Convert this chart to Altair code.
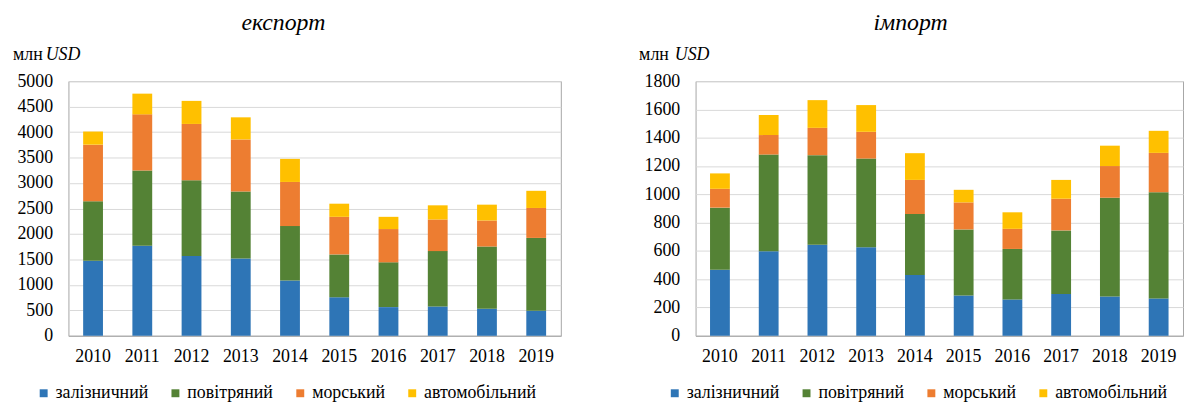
import altair as alt
import pandas as pd

FONT = "'Liberation Serif', 'Times New Roman', serif"

years = [str(y) for y in range(2010, 2020)]
modes = ["залізничний", "повітряний", "морський", "автомобільний"]
colors = ["#2E75B6", "#548235", "#ED7D31", "#FFC000"]

export_rail = [1475, 1766, 1566, 1520, 1087, 757, 563, 576, 531, 492]
export_air = [1165, 1482, 1488, 1314, 1068, 841, 880, 1087, 1222, 1430]
export_sea = [1113, 1100, 1106, 1022, 866, 738, 653, 621, 511, 588]
export_road = [258, 407, 453, 434, 453, 258, 240, 278, 311, 337]

import_rail = [467, 598, 644, 626, 429, 285, 257, 296, 278, 264]
import_air = [439, 683, 633, 627, 432, 467, 357, 449, 698, 751]
import_sea = [133, 138, 193, 189, 241, 191, 142, 224, 224, 278]
import_road = [109, 142, 196, 189, 189, 89, 117, 133, 144, 156]


def long_df(series):
    rows = []
    for k, (mode, vals) in enumerate(zip(modes, series)):
        for y, v in zip(years, vals):
            rows.append({"year": y, "mode": mode, "value": v, "k": k})
    return pd.DataFrame(rows)


one = pd.DataFrame({"a": [0]})


def panel(df, title, ymax, step, width, legend_x, mln_x, usd_x):
    H = 257
    bars = alt.Chart(df).mark_bar(size=20).encode(
        x=alt.X("year:N", title=None, sort=years,
                axis=alt.Axis(labelAngle=0, ticks=False, labelPadding=12,
                              domainColor="#A6A6A6", labelFontSize=18,
                              labelFont=FONT, labelColor="black")),
        y=alt.Y("value:Q", stack="zero", title=None,
                scale=alt.Scale(domain=[0, ymax], nice=False),
                axis=alt.Axis(values=list(range(0, ymax + 1, step)), ticks=False,
                              format="d", domain=False, labelPadding=16,
                              gridColor="#D9D9D9", labelFontSize=18,
                              labelFont=FONT, labelColor="black")),
        color=alt.Color("mode:N", scale=alt.Scale(domain=modes, range=colors),
                        legend=alt.Legend(title=None, orient="none", direction="horizontal",
                                          legendX=legend_x, legendY=306, padding=0,
                                          symbolType="square", symbolSize=64,
                                          symbolStrokeWidth=0, symbolOffset=0,
                                          labelFont=FONT, labelFontSize=18,
                                          labelColor="black", labelOffset=3,
                                          columnPadding=18)),
        order=alt.Order("k:Q", sort="ascending"),
    )
    t = alt.Chart(one).mark_text(text=title, font=FONT, fontSize=24, fontStyle="italic",
                                 align="center", baseline="middle", color="black").encode(
        x=alt.value(217), y=alt.value(-59))
    mln = alt.Chart(one).mark_text(text="млн", font=FONT, fontSize=18, align="left",
                                   baseline="middle", color="black").encode(
        x=alt.value(mln_x), y=alt.value(-26))
    usd = alt.Chart(one).mark_text(text="USD", font=FONT, fontSize=18, fontStyle="italic",
                                   align="left", baseline="middle", color="black").encode(
        x=alt.value(usd_x), y=alt.value(-26))
    return alt.layer(bars, t, mln, usd).properties(width=width, height=H)


left = panel(long_df([export_rail, export_air, export_sea, export_road]),
             "експорт", 5000, 500, 497, -34, -56, -23)
right = panel(long_df([import_rail, import_air, import_sea, import_road]),
              "імпорт", 1800, 200, 492, -30, -57, -21)

chart = alt.hconcat(left, right, spacing=77).resolve_scale(
    y="independent").resolve_legend(color="independent").properties(
    padding={"left": 4, "top": 0, "right": 0, "bottom": 0}
).configure_view(stroke="#A6A6A6", strokeWidth=1).configure_axis(
    labelFont=FONT, labelColor="black"
)

chart.save("out.html", embed_options={"renderer": "svg", "actions": False})
